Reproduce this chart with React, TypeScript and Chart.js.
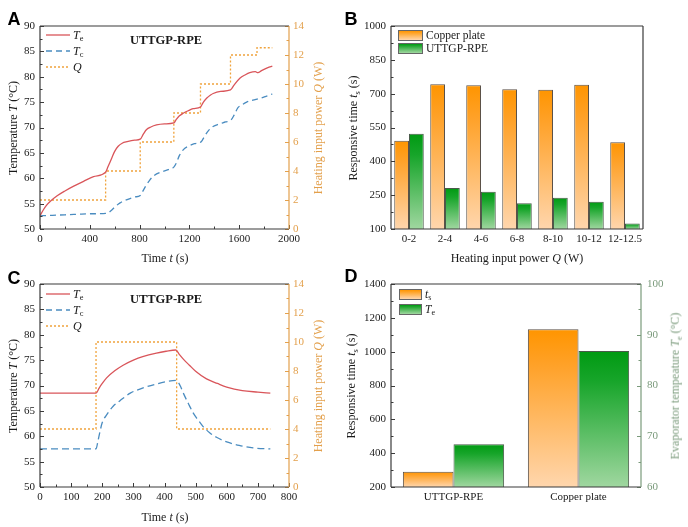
import React, { useEffect, useRef } from 'react';
import { Chart, registerables } from 'chart.js';

Chart.register(...registerables);

const SERIF = '"Liberation Serif", "Times New Roman", serif';
const SANS = '"Liberation Sans", Arial, sans-serif';

const RED = '#d9555a';
const BLUE = '#4a8cc0';
const ORANGE = '#f0a33c';
const ORANGE_AXIS = '#e3a04c';
const GREEN_AXIS = '#7a9a7b';
const FRAME = '#3a3a3a';
const TEXT = '#1a1a1a';

// ---------- Panel A ----------
const aTeTime = [0, 25, 50, 90, 135, 200, 267, 350, 430, 527, 545, 575, 600, 628, 660, 700, 760, 805, 830, 856, 890, 936, 1000, 1075, 1095, 1120, 1150, 1190, 1230, 1289, 1310, 1340, 1370, 1391, 1450, 1530, 1560, 1605, 1650, 1685, 1730, 1750, 1780, 1830, 1866];
const aTe = [52.6, 53.7, 54.6, 55.6, 56.5, 57.5, 58.4, 59.4, 60.3, 61.2, 62.2, 63.9, 65.3, 66.3, 66.9, 67.2, 67.5, 67.7, 68.7, 69.6, 70.1, 70.5, 70.7, 70.9, 71.6, 72.3, 72.8, 73.3, 73.7, 74.05, 74.9, 75.8, 76.4, 76.7, 77.1, 77.4, 78.4, 79.7, 80.4, 80.8, 81.0, 80.8, 81.2, 81.8, 82.1];
const aTcTime = [0, 100, 200, 300, 400, 540, 570, 600, 640, 700, 760, 805, 825, 850, 880, 920, 970, 1030, 1075, 1095, 1120, 1150, 1190, 1240, 1295, 1320, 1350, 1390, 1440, 1490, 1535, 1560, 1590, 1620, 1660, 1710, 1760, 1810, 1866];
const aTc = [52.6, 52.7, 52.8, 52.9, 53.0, 53.1, 53.6, 54.3, 55.1, 55.8, 56.3, 56.6, 57.4, 58.5, 59.6, 60.6, 61.2, 61.7, 62.2, 63.0, 64.5, 65.6, 66.3, 66.8, 67.2, 68.2, 69.3, 70.2, 70.7, 71.1, 71.5, 72.5, 73.9, 74.4, 75.0, 75.4, 75.7, 76.1, 76.6];
const aQTime = [0, 527, 805, 1075, 1289, 1530, 1743, 1866];
const aQ = [2, 4, 6, 8, 10, 12, 12.5, 12.5];

// ---------- Panel B ----------
const bCategories = ['0-2', '2-4', '4-6', '6-8', '8-10', '10-12', '12-12.5'];
const bCopper = [491, 742, 737, 720, 717, 739, 485];
const bUttgp = [522, 282, 265, 214, 239, 221, 124];

// ---------- Panel C ----------
const cTeTime = [0, 180, 190, 200, 214, 240, 267, 300, 330, 374, 405, 436, 448, 462, 480, 500, 535, 570, 600, 650, 700, 740];
const cTe = [68.5, 68.5, 69.5, 70.4, 71.5, 72.9, 74.0, 75.0, 75.7, 76.4, 76.75, 77.0, 76.1, 75.1, 74.0, 72.8, 71.3, 70.4, 69.7, 69.0, 68.7, 68.5];
const cTcTime = [0, 180, 186, 193, 200, 214, 235, 257, 290, 321, 374, 410, 438, 450, 462, 477, 492, 508, 524, 545, 567, 600, 640, 685, 740];
const cTc = [57.5, 57.5, 59.0, 61.0, 62.7, 64.2, 65.9, 67.0, 68.5, 69.3, 70.3, 70.8, 71.0, 70.0, 68.3, 66.4, 64.6, 63.2, 61.9, 60.7, 59.8, 58.9, 58.2, 57.7, 57.5];
const cQTime = [0, 180, 439, 740];
const cQ = [4, 10, 4, 4];

// ---------- Panel D ----------
const dCategories = ['UTTGP-RPE', 'Copper plate'];
const dTs = [290, 1132];
const dTe = [68.4, 86.8];

const zip = (xs: number[], ys: number[]) => xs.map((x, i) => ({ x, y: ys[i] }));

type TickSpec = { id: string; side: 'left' | 'right' | 'bottom'; major: number; minor: number; color: string };
type Sides = { left: string; right: string; top: string; bottom: string };

function frameTicks(sides: Sides, ticks: TickSpec[]) {
  return {
    id: 'frameTicks',
    afterDraw(chart: any) {
      const { ctx, chartArea: a } = chart;
      ctx.save();
      ctx.lineWidth = 1;
      ticks.forEach((t) => {
        const s = chart.scales[t.id];
        if (!s) return;
        ctx.strokeStyle = t.color;
        const n = Math.round((s.max - s.min) / t.minor);
        for (let i = 0; i <= n; i++) {
          const v = s.min + i * t.minor;
          const r = (v - s.min) / t.major;
          const isMajor = Math.abs(r - Math.round(r)) < 1e-6;
          const len = isMajor ? 4 : 2.5;
          const p = Math.round(s.getPixelForValue(v)) + 0.5;
          ctx.beginPath();
          if (t.side === 'left') {
            ctx.moveTo(a.left, p);
            ctx.lineTo(a.left + len, p);
          } else if (t.side === 'right') {
            ctx.moveTo(a.right, p);
            ctx.lineTo(a.right - len, p);
          } else {
            ctx.moveTo(p, a.bottom);
            ctx.lineTo(p, a.bottom - len);
          }
          ctx.stroke();
        }
      });
      ctx.lineWidth = 1.2;
      const line = (x1: number, y1: number, x2: number, y2: number, c: string) => {
        ctx.strokeStyle = c;
        ctx.beginPath();
        ctx.moveTo(x1, y1);
        ctx.lineTo(x2, y2);
        ctx.stroke();
      };
      line(a.left, a.top, a.right, a.top, sides.top);
      line(a.left, a.bottom, a.right, a.bottom, sides.bottom);
      line(a.left, a.top, a.left, a.bottom, sides.left);
      line(a.right, a.top, a.right, a.bottom, sides.right);
      ctx.restore();
    },
  };
}

function gradientFill(top: string, mid: string, bottom: string, axis: string) {
  return (c: any) => {
    const chart = c.chart;
    const area = chart.chartArea;
    const scale = chart.scales[axis];
    if (!area || !scale || c.type !== 'data') return mid;
    const yTop = scale.getPixelForValue(c.raw);
    const g = chart.ctx.createLinearGradient(0, yTop, 0, area.bottom);
    g.addColorStop(0, top);
    g.addColorStop(0.22, mid);
    g.addColorStop(1, bottom);
    return g;
  };
}

const tickFont = { family: SERIF, size: 11 };
const noGrid = { display: false, drawTicks: false };
const noBorder = { display: false };
const plainNum = (v: any) => String(v);

function linAxis(position: string, min: number, max: number, step: number, size: number, color: string, padding: number, isX = false) {
  return {
    type: 'linear',
    position,
    min,
    max,
    ticks: { stepSize: step, font: tickFont, color, padding, maxRotation: 0, autoSkip: false, callback: plainNum },
    grid: noGrid,
    border: noBorder,
    afterFit: (s: any) => {
      if (isX) s.height = size;
      else s.width = size;
    },
  };
}

function catAxis(size: number, padding: number) {
  return {
    type: 'category',
    ticks: { font: tickFont, color: TEXT, padding, maxRotation: 0, minRotation: 0, autoSkip: false },
    grid: noGrid,
    border: noBorder,
    afterFit: (s: any) => {
      s.height = size;
    },
  };
}

const baseOptions = (top: number, right = 0) => ({
  animation: false,
  responsive: false,
  events: [],
  layout: { padding: { top, right, left: 0, bottom: 0 } },
  plugins: { legend: { display: false }, tooltip: { enabled: false } },
});

const configA = () => ({
  type: 'line',
  data: {
    datasets: [
      { data: zip(aTeTime, aTe), borderColor: RED, borderWidth: 1.3, pointRadius: 0, cubicInterpolationMode: 'monotone', yAxisID: 'y' },
      { data: zip(aTcTime, aTc), borderColor: BLUE, borderWidth: 1.3, borderDash: [6, 4], pointRadius: 0, cubicInterpolationMode: 'monotone', yAxisID: 'y' },
      { data: zip(aQTime, aQ), borderColor: ORANGE, borderWidth: 1.3, borderDash: [2, 2], pointRadius: 0, stepped: 'before', yAxisID: 'y2' },
    ],
  },
  options: {
    ...baseOptions(26),
    scales: {
      x: linAxis('bottom', 0, 2000, 400, 35, TEXT, 4, true),
      y: linAxis('left', 50, 90, 5, 40, TEXT, 5),
      y2: linAxis('right', 0, 14, 2, 55, ORANGE_AXIS, 4),
    },
  },
  plugins: [
    frameTicks({ left: FRAME, top: FRAME, bottom: FRAME, right: ORANGE_AXIS }, [
      { id: 'x', side: 'bottom', major: 400, minor: 200, color: FRAME },
      { id: 'y', side: 'left', major: 5, minor: 2.5, color: FRAME },
      { id: 'y2', side: 'right', major: 2, minor: 1, color: ORANGE_AXIS },
    ]),
  ],
});

const configC = () => ({
  type: 'line',
  data: {
    datasets: [
      { data: zip(cTeTime, cTe), borderColor: RED, borderWidth: 1.3, pointRadius: 0, cubicInterpolationMode: 'monotone', yAxisID: 'y' },
      { data: zip(cTcTime, cTc), borderColor: BLUE, borderWidth: 1.3, borderDash: [7, 4], pointRadius: 0, cubicInterpolationMode: 'monotone', yAxisID: 'y' },
      { data: zip(cQTime, cQ), borderColor: ORANGE, borderWidth: 1.3, borderDash: [2, 2], pointRadius: 0, stepped: 'before', yAxisID: 'y2' },
    ],
  },
  options: {
    ...baseOptions(20),
    scales: {
      x: linAxis('bottom', 0, 800, 100, 40, TEXT, 4, true),
      y: linAxis('left', 50, 90, 5, 40, TEXT, 5),
      y2: linAxis('right', 0, 14, 2, 55, ORANGE_AXIS, 4),
    },
  },
  plugins: [
    frameTicks({ left: FRAME, top: FRAME, bottom: FRAME, right: ORANGE_AXIS }, [
      { id: 'x', side: 'bottom', major: 100, minor: 50, color: FRAME },
      { id: 'y', side: 'left', major: 5, minor: 2.5, color: FRAME },
      { id: 'y2', side: 'right', major: 2, minor: 1, color: ORANGE_AXIS },
    ]),
  ],
});

const OR_TOP = '#ff9500';
const OR_MID = '#ffa127';
const OR_BOT = '#ffd6ad';
const GR_TOP = '#009a12';
const GR_MID = '#17a52a';
const GR_BOT = '#a0d7a0';

const configB = () => ({
  type: 'bar',
  data: {
    labels: bCategories,
    datasets: [
      { data: bCopper, backgroundColor: gradientFill(OR_TOP, OR_MID, OR_BOT, 'y'), borderColor: '#5b5148', borderWidth: 1, categoryPercentage: 0.82, barPercentage: 1, yAxisID: 'y' },
      { data: bUttgp, backgroundColor: gradientFill(GR_TOP, GR_MID, GR_BOT, 'y'), borderColor: '#4a5a4a', borderWidth: 1, categoryPercentage: 0.82, barPercentage: 1, yAxisID: 'y' },
    ],
  },
  options: {
    ...baseOptions(26, 45),
    scales: {
      x: catAxis(35, 4),
      y: linAxis('left', 100, 1000, 150, 47, TEXT, 5),
    },
  },
  plugins: [
    frameTicks({ left: FRAME, top: FRAME, bottom: FRAME, right: FRAME }, [
      { id: 'y', side: 'left', major: 150, minor: 75, color: FRAME },
    ]),
  ],
});

const configD = () => ({
  type: 'bar',
  data: {
    labels: dCategories,
    datasets: [
      { data: dTs, backgroundColor: gradientFill(OR_TOP, OR_MID, OR_BOT, 'y'), borderColor: '#5b5148', borderWidth: 1, categoryPercentage: 0.81, barPercentage: 1, yAxisID: 'y' },
      { data: dTe, backgroundColor: gradientFill(GR_TOP, GR_MID, GR_BOT, 'y2'), borderColor: '#4a5a4a', borderWidth: 1, categoryPercentage: 0.81, barPercentage: 1, yAxisID: 'y2' },
    ],
  },
  options: {
    ...baseOptions(20),
    scales: {
      x: catAxis(40, 4),
      y: linAxis('left', 200, 1400, 200, 47, TEXT, 5),
      y2: linAxis('right', 60, 100, 10, 47, GREEN_AXIS, 6),
    },
  },
  plugins: [
    frameTicks({ left: FRAME, top: FRAME, bottom: FRAME, right: GREEN_AXIS }, [
      { id: 'y', side: 'left', major: 200, minor: 100, color: FRAME },
      { id: 'y2', side: 'right', major: 10, minor: 5, color: GREEN_AXIS },
    ]),
  ],
});

function ChartBox({ make, left, top, width, height }: { make: () => any; left: number; top: number; width: number; height: number }) {
  const ref = useRef<HTMLCanvasElement>(null);
  useEffect(() => {
    const chart = new Chart(ref.current as HTMLCanvasElement, make());
    return () => chart.destroy();
  }, []);
  return <canvas ref={ref} width={width} height={height} style={{ position: 'absolute', left, top, width, height }} />;
}

const Txt = ({ x, y, rot, color = TEXT, size = 12, bold, family = SERIF, children }: any) => (
  <div
    style={{
      position: 'absolute',
      left: x,
      top: y,
      transform: `translate(-50%, -50%)${rot ? ' rotate(-90deg)' : ''}`,
      whiteSpace: 'nowrap',
      fontFamily: family,
      fontSize: size,
      fontWeight: bold ? 'bold' : 'normal',
      color,
      lineHeight: 1,
    }}
  >
    {children}
  </div>
);

const Sub = ({ children }: any) => <span style={{ fontSize: '0.7em', position: 'relative', top: '0.3em' }}>{children}</span>;

const LineKey = ({ x, y, color, dash, children }: any) => (
  <div style={{ position: 'absolute', left: x, top: y - 7, height: 14, display: 'flex', alignItems: 'center', fontFamily: SERIF, fontSize: 12, color: TEXT, lineHeight: 1 }}>
    <svg width={24} height={14} style={{ display: 'block' }}>
      <line x1={0} y1={7} x2={24} y2={7} stroke={color} strokeWidth={1.3} strokeDasharray={dash} />
    </svg>
    <span style={{ marginLeft: 3 }}>{children}</span>
  </div>
);

const BoxKey = ({ x, y, w, h, top, bottom, children }: any) => (
  <div style={{ position: 'absolute', left: x, top: y, height: h, display: 'flex', alignItems: 'center', fontFamily: SERIF, fontSize: 11.5, color: TEXT, lineHeight: 1 }}>
    <div style={{ width: w, height: h, boxSizing: 'border-box', border: '1px solid #666', background: `linear-gradient(to bottom, ${top}, ${bottom})` }} />
    <span style={{ marginLeft: 3 }}>{children}</span>
  </div>
);

const LineLegend = ({ ox, oy }: { ox: number; oy: number }) => (
  <>
    <LineKey x={ox} y={oy} color={RED}>
      <i>T</i>
      <Sub>e</Sub>
    </LineKey>
    <LineKey x={ox} y={oy + 16} color={BLUE} dash="6 4">
      <i>T</i>
      <Sub>c</Sub>
    </LineKey>
    <LineKey x={ox} y={oy + 32} color={ORANGE} dash="2 2">
      <i>Q</i>
    </LineKey>
  </>
);

export default function App() {
  return (
    <div style={{ position: 'absolute', left: 0, top: 0, width: 688, height: 527, background: '#fff', overflow: 'hidden' }}>
      <ChartBox make={configA} left={0} top={0} width={344} height={264} />
      <ChartBox make={configB} left={344} top={0} width={344} height={264} />
      <ChartBox make={configC} left={0} top={264} width={344} height={263} />
      <ChartBox make={configD} left={344} top={264} width={344} height={263} />

      {/* panel letters */}
      <Txt x={14} y={19} size={18} bold family={SANS} color="#000">A</Txt>
      <Txt x={351} y={19} size={18} bold family={SANS} color="#000">B</Txt>
      <Txt x={14} y={278} size={18} bold family={SANS} color="#000">C</Txt>
      <Txt x={351} y={276} size={18} bold family={SANS} color="#000">D</Txt>

      {/* Panel A */}
      <Txt x={166} y={40} size={12.5} bold>UTTGP-RPE</Txt>
      <LineLegend ox={46} oy={35} />
      <Txt x={13} y={128} rot>
        Temperature <i>T</i> (°C)
      </Txt>
      <Txt x={318} y={128} rot color={ORANGE_AXIS}>
        Heating input power <i>Q</i> (W)
      </Txt>
      <Txt x={165} y={258}>
        Time <i>t</i> (s)
      </Txt>

      {/* Panel B */}
      <BoxKey x={398} y={30} w={25} h={11} top={OR_TOP} bottom={OR_BOT}>Copper plate</BoxKey>
      <BoxKey x={398} y={43} w={25} h={11} top={GR_TOP} bottom={GR_BOT}>UTTGP-RPE</BoxKey>
      <Txt x={353} y={128} rot>
        Responsive time <i>t</i>
        <Sub>s</Sub> (s)
      </Txt>
      <Txt x={517} y={258}>
        Heating input power <i>Q</i> (W)
      </Txt>

      {/* Panel C */}
      <Txt x={166} y={299} size={12.5} bold>UTTGP-RPE</Txt>
      <LineLegend ox={46} oy={294} />
      <Txt x={13} y={386} rot>
        Temperature <i>T</i> (°C)
      </Txt>
      <Txt x={318} y={386} rot color={ORANGE_AXIS}>
        Heating input power <i>Q</i> (W)
      </Txt>
      <Txt x={165} y={517}>
        Time <i>t</i> (s)
      </Txt>

      {/* Panel D */}
      <BoxKey x={399} y={289} w={23} h={11} top={OR_TOP} bottom={OR_BOT}>
        <i>t</i>
        <Sub>s</Sub>
      </BoxKey>
      <BoxKey x={399} y={304} w={23} h={11} top={GR_TOP} bottom={GR_BOT}>
        <i>T</i>
        <Sub>e</Sub>
      </BoxKey>
      <Txt x={351} y={386} rot>
        Responsive time <i>t</i>
        <Sub>s</Sub> (s)
      </Txt>
      <Txt x={675} y={386} rot color={GREEN_AXIS}>
        Evaporator tempeature <i>T</i>
        <Sub>e</Sub> (°C)
      </Txt>
    </div>
  );
}
